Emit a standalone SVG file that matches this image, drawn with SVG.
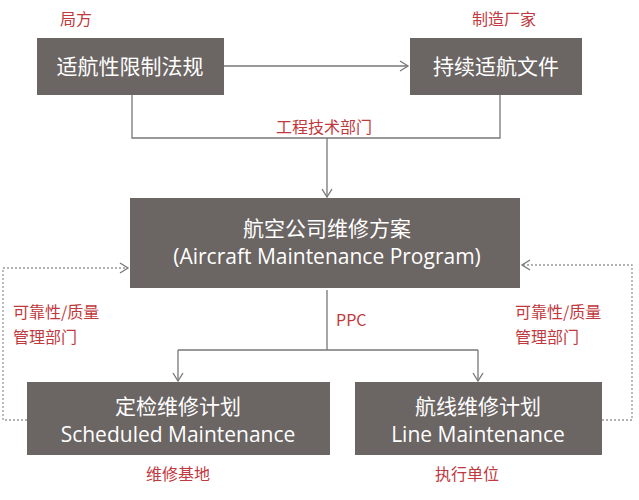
<svg xmlns="http://www.w3.org/2000/svg" width="639" height="500" viewBox="0 0 639 500">
<style>
.box{fill:#6b6563}
.wt{fill:#fff;font-family:"Open Sans","Noto Sans CJK SC",sans-serif;font-size:21px;text-anchor:middle}
.rt{fill:#c0393e;font-family:"Noto Sans CJK SC",sans-serif;font-size:16px}
.ln{fill:none;stroke:#777;stroke-width:1.3}
.dt{fill:none;stroke:#999;stroke-width:1.3;stroke-dasharray:2 2}
</style>
<defs><marker id="a" markerWidth="12" markerHeight="12" refX="9" refY="6" orient="auto" markerUnits="userSpaceOnUse"><path d="M1,1 L9,6 L1,11" fill="none" stroke="#777" stroke-width="1.3"/></marker></defs>
<rect width="639" height="500" fill="#fff"/>
<g id="connectors">
<path class="ln" d="M224,66 H408" marker-end="url(#a)"/>
<path class="ln" d="M132,95 V138 H500 V95"/>
<path class="ln" d="M327,138 V197" marker-end="url(#a)"/>
<path class="ln" d="M327,290 V350 M178,350 H478"/>
<path class="ln" d="M178,350 V381" marker-end="url(#a)"/>
<path class="ln" d="M478,350 V381" marker-end="url(#a)"/>
<path class="dt" d="M27,420 H3 V268 H128" marker-end="url(#a)"/>
<path class="dt" d="M602,420 H632 V265 H522" marker-end="url(#a)"/>
</g>
<g id="n1"><rect class="box" x="37" y="38" width="187" height="57"/><text class="wt" x="130" y="74">适航性限制法规</text></g>
<g id="n2"><rect class="box" x="410" y="38" width="172" height="57"/><text class="wt" x="496" y="74">持续适航文件</text></g>
<g id="n3"><rect class="box" x="130" y="198" width="390" height="90"/><text class="wt" x="327" y="236">航空公司维修方案</text><text class="wt" x="327" y="264">(Aircraft Maintenance Program)</text></g>
<g id="n4"><rect class="box" x="27" y="382" width="303" height="73"/><text class="wt" x="178" y="414">定检维修计划</text><text class="wt" x="178" y="442">Scheduled Maintenance</text></g>
<g id="n5"><rect class="box" x="355" y="382" width="247" height="73"/><text class="wt" x="478" y="414">航线维修计划</text><text class="wt" x="478" y="442">Line Maintenance</text></g>
<g id="labels">
<text class="rt" x="60" y="25">局方</text>
<text class="rt" x="472" y="25">制造厂家</text>
<text class="rt" x="276" y="133">工程技术部门</text>
<text class="rt" x="336" y="326">PPC</text>
<text class="rt" x="13" y="318">可靠性/质量</text>
<text class="rt" x="13" y="343">管理部门</text>
<text class="rt" x="515" y="318">可靠性/质量</text>
<text class="rt" x="515" y="343">管理部门</text>
<text class="rt" x="146" y="480">维修基地</text>
<text class="rt" x="435" y="480">执行单位</text>
</g>
</svg>
